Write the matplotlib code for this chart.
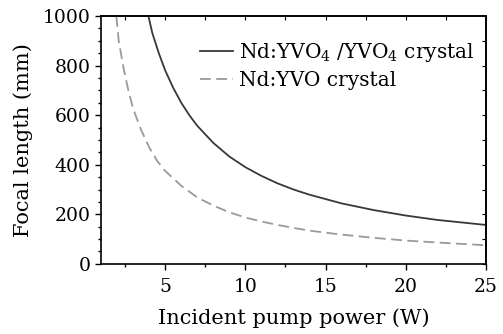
# focal length of thermal lens vs pump power
import matplotlib
matplotlib.use('Agg')
import matplotlib.pyplot as plt
from matplotlib.ticker import MultipleLocator, NullFormatter

plt.rcParams['font.family'] = 'DejaVu Serif'
plt.rcParams['mathtext.fontset'] = 'dejavuserif'

# values
power_composite = [3.95, 4.2, 4.6, 5.0, 5.5, 6.0, 6.5, 7.0, 8.0, 9.0, 10.0,
                   11.0, 12.0, 13.0, 14.0, 16.0, 18.0, 20.0, 22.0, 25.0]
focal_composite = [1000, 930, 850, 780, 710, 650, 600, 557, 488, 433, 390,
                   355, 325, 300, 279, 244, 217, 195, 177, 157]

power_single = [1.95, 2.1, 2.4, 2.7, 3.0, 3.5, 4.0, 4.5, 5.0, 6.0, 7.0, 8.0,
                9.0, 10.0, 11.0, 12.0, 13.0, 14.0, 16.0, 18.0, 20.0, 22.0, 25.0]
focal_single = [1000, 900, 790, 700, 625, 540, 470, 415, 375, 315, 268, 235,
                208, 187, 171, 157, 145, 134, 118, 105, 94, 86, 75]

labels = [r'Nd:YVO$_4$ /YVO$_4$ crystal', 'Nd:YVO crystal']

fig = plt.figure(figsize=(5.03, 3.34), dpi=100, facecolor='w')
ax = fig.add_axes([0.201, 0.21, 0.765, 0.742])

ax.plot(power_composite, focal_composite, '-', color='#383838', lw=1.3,
        label=labels[0])
ax.plot(power_single, focal_single, '--', color='#9a9a9a', lw=1.3,
        dashes=(6, 3), label=labels[1])

ax.set_xlim(1, 25)
ax.set_ylim(0, 1000)
ax.xaxis.set_major_locator(MultipleLocator(5))
ax.xaxis.set_minor_locator(MultipleLocator(2.5))
ax.yaxis.set_major_locator(MultipleLocator(200))
ax.yaxis.set_minor_locator(MultipleLocator(50))
ax.tick_params(which='both', direction='out', labelsize=13.5, width=1.0,
               top=False, right=False)
ax.tick_params(which='major', length=4)
ax.tick_params(which='minor', length=2.5)
ax.tick_params(axis='x', which='major', pad=6)

# top/right ticks point inward
top = ax.secondary_xaxis('top')
top.xaxis.set_major_locator(MultipleLocator(2.5))
top.xaxis.set_major_formatter(NullFormatter())
top.tick_params(direction='in', length=3)
right = ax.secondary_yaxis('right')
right.yaxis.set_major_locator(MultipleLocator(100))
right.yaxis.set_major_formatter(NullFormatter())
right.tick_params(direction='in', length=3)

for s in ax.spines.values():
    s.set_linewidth(1.2)
top.spines['top'].set_linewidth(1.2)
right.spines['right'].set_linewidth(1.2)

ax.set_xlabel('Incident pump power (W)', fontsize=15, labelpad=9)
ax.set_ylabel('Focal length (mm)', fontsize=15, labelpad=7)

ax.legend(loc='upper right', frameon=False, fontsize=14.5, handlelength=1.6,
          handletextpad=0.3, labelspacing=0.35, borderaxespad=0,
          bbox_to_anchor=(0.99, 0.93))

fig.savefig('out.png', dpi=100)
